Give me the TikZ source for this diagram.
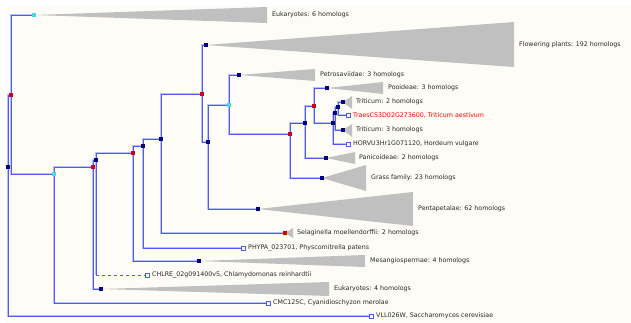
\documentclass[tikz,border=0pt]{standalone}
\usepackage{fontspec}
\setmainfont{DejaVu Sans}
\usetikzlibrary{backgrounds}
\definecolor{edgeblue}{RGB}{80,88,255}
\definecolor{haloblue}{RGB}{185,190,255}
\definecolor{navynode}{RGB}{0,0,128}
\definecolor{dupred}{RGB}{210,0,20}
\definecolor{specyan}{RGB}{70,220,215}
\definecolor{cladegrey}{RGB}{192,192,192}
\definecolor{paper}{RGB}{253,252,246}
\definecolor{labgrey}{RGB}{40,40,40}
\tikzset{
  inner/.style={fill=navynode,minimum size=4.6pt,inner sep=0pt},
  dup/.style={inner,fill=dupred},
  spc/.style={inner,fill=specyan},
  leaf/.style={draw=edgeblue,fill=white,line width=0.6pt,minimum size=4.2pt,inner sep=0pt},
  clade/.style={fill=cladegrey},
  lab/.style={anchor=west,inner sep=0pt,text=labgrey,font=\fontsize{6.3}{7}\selectfont},
  edge/.style={edgeblue,line width=0.6pt,preaction={draw=haloblue,line width=2pt}},
}
\begin{document}
\begin{tikzpicture}[x=1pt,y=-1pt]
\useasboundingbox (0,0) rectangle (631,323);
% inner nodes
\node[inner] (r0) at (8,167) {};
\node[dup] (r1) at (11,95) {};
\node[spc] (c1) at (54,174) {};
\node[dup] (c2) at (93,167) {};
\node[inner] (d1) at (96,160) {};
\node[dup] (e1) at (133,153) {};
\node[inner] (f1) at (143,146) {};
\node[inner] (g1) at (161,139) {};
\node[dup] (h1) at (202,94) {};
\node[inner] (i1) at (208,142) {};
\node[spc] (j1) at (229,105) {};
\node[dup] (k1) at (290,134) {};
\node[inner] (l1) at (305,123) {};
\node[dup] (m1) at (314,106) {};
\node[inner] (n1) at (333,123) {};
\node[inner] (o1) at (335,113) {};
\node[inner] (p1) at (338,107) {};
% collapsed clades
\node[spc] (euk6) at (34,15) {};
\node[inner] (flow) at (206,45) {};
\node[inner] (petro) at (239,75) {};
\node[inner] (pooid) at (327,88) {};
\node[inner] (trit2) at (343,102) {};
\node[inner] (trit3) at (343,130) {};
\node[inner] (panic) at (326,158) {};
\node[inner] (grass) at (322,178) {};
\node[inner] (penta) at (258,209) {};
\node[dup] (selag) at (285,233) {};
\node[inner] (mesang) at (199,261) {};
\node[inner] (euk4) at (101,289) {};
% leaves
\node[leaf] (traes) at (348,115) {};
\node[leaf] (horvu) at (348,144) {};
\node[leaf] (phypa) at (243,248) {};
\node[leaf] (chlre) at (147,275) {};
\node[leaf] (cmc) at (268,303) {};
\node[leaf] (vll) at (371,316) {};
\coordinate (chlrecorner) at (d1 |- chlre);
% labels
\node[lab] (euk6lab) at (272,15) {Eukaryotes: 6 homologs};
\node[lab] (flowlab) at (519,45) {Flowering plants: 192 homologs};
\node[lab] (petrolab) at (320,75) {Petrosaviidae: 3 homologs};
\node[lab] (pooidlab) at (388,88) {Pooideae: 3 homologs};
\node[lab] (trit2lab) at (356,102) {Triticum: 2 homologs};
\node[lab,text=red] (traeslab) at (353,115) {TraesCS3D02G273600, Triticum aestivum};
\node[lab] (trit3lab) at (356,130) {Triticum: 3 homologs};
\node[lab] (horvulab) at (353,144) {HORVU3Hr1G071120, Hordeum vulgare};
\node[lab] (paniclab) at (359,158) {Panicoideae: 2 homologs};
\node[lab] (grasslab) at (371,178) {Grass family: 23 homologs};
\node[lab] (pentalab) at (418,209) {Pentapetalae: 62 homologs};
\node[lab] (selaglab) at (297,233) {Selaginella moellendorffii: 2 homologs};
\node[lab] (phypalab) at (248,248) {PHYPA\_023701, Physcomitrella patens};
\node[lab] (mesanglab) at (370,261) {Mesangiospermae: 4 homologs};
\node[lab] (chlrelab) at (152,275) {CHLRE\_02g091400v5, Chlamydomonas reinhardtii};
\node[lab] (euk4lab) at (334,289) {Eukaryotes: 4 homologs};
\node[lab] (cmclab) at (273,303) {CMC125C, Cyanidioschyzon merolae};
\node[lab] (vlllab) at (376,316) {VLL026W, Saccharomyces cerevisiae};
\begin{pgfonlayer}{background}
\fill[paper] (6,6) rectangle (631,323);
% triangles
\fill[clade] (euk6.center) -- (267,7) -- (267,23) -- cycle;
\fill[clade] (flow.center) -- (514,22) -- (514,67) -- cycle;
\fill[clade] (petro.center) -- (315,69) -- (315,81) -- cycle;
\fill[clade] (pooid.center) -- (383,82) -- (383,94) -- cycle;
\fill[clade] (trit2.center) -- (352,96) -- (352,109) -- cycle;
\fill[clade] (trit3.center) -- (352,124) -- (352,137) -- cycle;
\fill[clade] (panic.center) -- (355,152) -- (355,164) -- cycle;
\fill[clade] (grass.center) -- (366,165) -- (366,191) -- cycle;
\fill[clade] (penta.center) -- (413,192) -- (413,226) -- cycle;
\fill[clade] (selag.center) -- (293,228) -- (293,238) -- cycle;
\fill[clade] (mesang.center) -- (365,255) -- (365,267) -- cycle;
\fill[clade] (euk4.center) -- (329,282) -- (329,296) -- cycle;
% edges
\draw[edge] (r0.center) |- (r1.center);
\draw[edge] (r0.center) |- (vll);
\draw[edge] (r1.center) |- (euk6.center);
\draw[edge] (r1.center) |- (c1.center);
\draw[edge] (c1.center) |- (c2.center);
\draw[edge] (c1.center) |- (cmc);
\draw[edge] (c2.center) |- (d1.center);
\draw[edge] (c2.center) |- (euk4.center);
\draw[edge] (d1.center) |- (e1.center);
\draw[edge] (d1.center) -- (chlrecorner);
\draw[edgeblue,line width=0.6pt,dashed] (chlrecorner) -- (chlre);
\draw[edge] (e1.center) |- (f1.center);
\draw[edge] (e1.center) |- (mesang.center);
\draw[edge] (f1.center) |- (g1.center);
\draw[edge] (f1.center) |- (phypa);
\draw[edge] (g1.center) |- (h1.center);
\draw[edge] (g1.center) |- (selag.center);
\draw[edge] (h1.center) |- (flow.center);
\draw[edge] (h1.center) |- (i1.center);
\draw[edge] (i1.center) |- (j1.center);
\draw[edge] (i1.center) |- (penta.center);
\draw[edge] (j1.center) |- (petro.center);
\draw[edge] (j1.center) |- (k1.center);
\draw[edge] (k1.center) |- (l1.center);
\draw[edge] (k1.center) |- (grass.center);
\draw[edge] (l1.center) |- (m1.center);
\draw[edge] (l1.center) |- (panic.center);
\draw[edge] (m1.center) |- (pooid.center);
\draw[edge] (m1.center) |- (n1.center);
\draw[edge] (n1.center) |- (o1.center);
\draw[edge] (n1.center) |- (horvu);
\draw[edge] (o1.center) |- (p1.center);
\draw[edge] (o1.center) |- (trit3.center);
\draw[edge] (p1.center) |- (trit2.center);
\draw[edge] (p1.center) |- (traes);
\end{pgfonlayer}
\end{tikzpicture}
\end{document}
